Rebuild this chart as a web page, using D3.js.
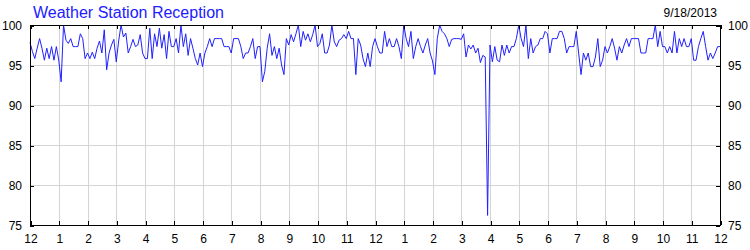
<!DOCTYPE html>
<html>
<head>
<meta charset="utf-8">
<script src="https://cdn.jsdelivr.net/npm/d3@7"></script>
<style>
  body { margin: 0; background: #fff; }
  svg { display: block; font-family: Arial, "Liberation Sans", sans-serif; }
</style>
</head>
<body>
<figure id="chart" style="margin:0"></figure>
<script>
// reception % every 5 minutes, midnight to midnight (289 readings)
const reception = [
  97.8, 96.7, 95.8, 97.1, 98.3, 97.1, 95.6, 97.1, 95.8, 97.3, 95.6, 97.3,
  95.6, 92.9, 100, 98.1, 97.7, 98.3, 97.3, 97.3, 97.3, 98.9, 98.3, 95.8,
  96.5, 95.8, 96.6, 95.8, 97.1, 98.0, 96.5, 99.4, 94.4, 96.5, 97.5, 98.2,
  95.4, 98.0, 100, 98.5, 99.0, 96.5, 97.3, 98.2, 97.3, 97.5, 98.8, 96.5,
  95.8, 95.8, 99.6, 95.8, 98.9, 97.3, 99.6, 97.1, 98.8, 95.8, 99.2, 97.3,
  97.3, 98.3, 96.5, 100, 97.3, 98.9, 96.2, 98.3, 97.1, 95.8, 95.0, 96.5,
  94.8, 96.5, 97.3, 98.3, 97.3, 98.3, 98.3, 98.3, 98.3, 97.3, 97.3, 97.3,
  96.5, 98.3, 98.3, 98.3, 97.3, 95.8, 96.5, 96.5, 97.3, 98.3, 95.8, 97.3,
  97.3, 92.9, 94.2, 97.1, 98.9, 96.2, 97.3, 95.8, 97.1, 95.0, 93.8, 98.3,
  97.5, 98.8, 97.9, 98.9, 100, 97.3, 99.2, 98.1, 98.9, 97.9, 98.8, 100,
  97.3, 97.7, 98.9, 96.5, 96.5, 97.5, 100, 97.9, 97.3, 98.1, 98.3, 98.8,
  98.3, 99.2, 98.3, 98.3, 93.8, 98.3, 97.5, 95.8, 94.8, 96.5, 94.8, 97.3,
  98.3, 97.3, 96.5, 96.5, 99.2, 97.3, 98.3, 97.3, 97.3, 98.3, 97.3, 95.8,
  100, 98.3, 97.3, 99.2, 95.8, 97.3, 98.3, 97.3, 96.5, 97.5, 98.3, 96.5,
  95.5, 93.8, 98.3, 100, 99.2, 98.9, 98.3, 97.3, 98.2, 98.3, 98.3, 98.3,
  98.2, 98.9, 96.0, 97.5, 97.0, 97.5, 96.5, 97.1, 95.3, 96.2, 96.0, 76.2,
  97.5, 95.4, 97.3, 95.6, 95.4, 97.5, 96.2, 97.5, 96.5, 97.3, 97.3, 98.3,
  100, 98.3, 97.3, 100, 95.8, 98.3, 96.5, 97.3, 97.5, 98.3, 98.3, 99.2,
  98.9, 96.5, 98.3, 98.3, 98.3, 99.2, 99.2, 98.3, 96.5, 97.3, 97.3, 97.3,
  99.2, 96.5, 93.8, 96.5, 95.6, 96.5, 94.8, 94.8, 96.0, 98.3, 94.8, 95.6,
  97.3, 96.5, 97.3, 98.3, 97.1, 95.6, 97.3, 96.5, 97.5, 98.3, 97.3, 98.3,
  98.3, 98.3, 98.3, 96.5, 96.5, 96.5, 98.3, 98.3, 98.3, 100, 97.3, 99.2,
  97.3, 97.3, 96.5, 97.3, 96.5, 99.2, 96.5, 98.3, 97.3, 98.3, 97.3, 97.3,
  98.3, 95.6, 95.6, 97.3, 98.3, 99.2, 97.3, 95.6, 96.5, 95.8, 96.5, 97.3,
  97.3
];
const hourLabels = ["12","1","2","3","4","5","6","7","8","9","10","11",
                    "12","1","2","3","4","5","6","7","8","9","10","11","12"];
const yTicks = [75, 80, 85, 90, 95, 100];
const title = "Weather Station Reception";
const dateText = "9/18/2013";

const width = 750, height = 250;
const plotLeft = 30, plotRight = 720, plotTop = 25, plotBottom = 225;

const svg = d3.select("#chart").append("svg")
  .attr("width", width)
  .attr("height", height);

const x = d3.scaleLinear().domain([0, 24]).range([plotLeft, plotRight]);
const y = d3.scaleLinear().domain([75, 100]).range([plotBottom, plotTop]);

// grid
const grid = svg.append("g").attr("stroke", "#d4d4d4").attr("shape-rendering", "crispEdges");
grid.selectAll("line.v").data(d3.range(1, 24)).enter().append("line")
  .attr("x1", d => x(d) + 0.5).attr("x2", d => x(d) + 0.5)
  .attr("y1", plotTop).attr("y2", plotBottom);
grid.selectAll("line.h").data(yTicks.slice(1, -1)).enter().append("line")
  .attr("x1", plotLeft).attr("x2", plotRight)
  .attr("y1", d => y(d) + 0.5).attr("y2", d => y(d) + 0.5);

// data line
const line = d3.line()
  .x((d, i) => x(i / 12))
  .y(d => y(d));

svg.append("path")
  .datum(reception)
  .attr("fill", "none")
  .attr("stroke", "#2020ff")
  .attr("stroke-width", 1)
  .attr("d", line);

// axes, ticks pointing inward
const hours = d3.range(0, 25);
function styleAxis(g) {
  g.select(".domain").remove();
  g.selectAll("text").attr("font-size", 12).attr("fill", "#000").attr("font-family", "Arial, 'Liberation Sans', sans-serif");
  g.selectAll("line").attr("stroke", "#000").attr("shape-rendering", "crispEdges");
}

svg.append("g")
  .attr("transform", "translate(0.5," + plotBottom + ")")
  .call(d3.axisBottom(x).tickValues(hours).tickFormat(d => hourLabels[d]).tickSizeInner(-4).tickSizeOuter(0).tickPadding(9))
  .call(styleAxis);

svg.append("g")
  .attr("transform", "translate(0.5," + plotTop + ")")
  .call(d3.axisTop(x).tickValues(hours).tickFormat("").tickSizeInner(-4).tickSizeOuter(0))
  .call(styleAxis);

svg.append("g")
  .attr("transform", "translate(" + plotLeft + ",0.5)")
  .call(d3.axisLeft(y).tickValues(yTicks).tickSizeInner(-4).tickSizeOuter(0).tickPadding(8))
  .call(styleAxis);

svg.append("g")
  .attr("transform", "translate(" + plotRight + ",0.5)")
  .call(d3.axisRight(y).tickValues(yTicks).tickSizeInner(-4).tickSizeOuter(0).tickPadding(8))
  .call(styleAxis);

// frame
svg.append("rect")
  .attr("x", plotLeft + 0.5).attr("y", plotTop + 0.5)
  .attr("width", plotRight - plotLeft).attr("height", plotBottom - plotTop)
  .attr("fill", "none").attr("stroke", "#000")
  .attr("shape-rendering", "crispEdges");

svg.append("text")
  .attr("x", 33).attr("y", 18)
  .attr("font-size", 16)
  .attr("fill", "#2020ff")
  .text(title);

svg.append("text")
  .attr("x", 717).attr("y", 17)
  .attr("text-anchor", "end")
  .attr("font-size", 12)
  .attr("fill", "#000")
  .text(dateText);
</script>
</body>
</html>
